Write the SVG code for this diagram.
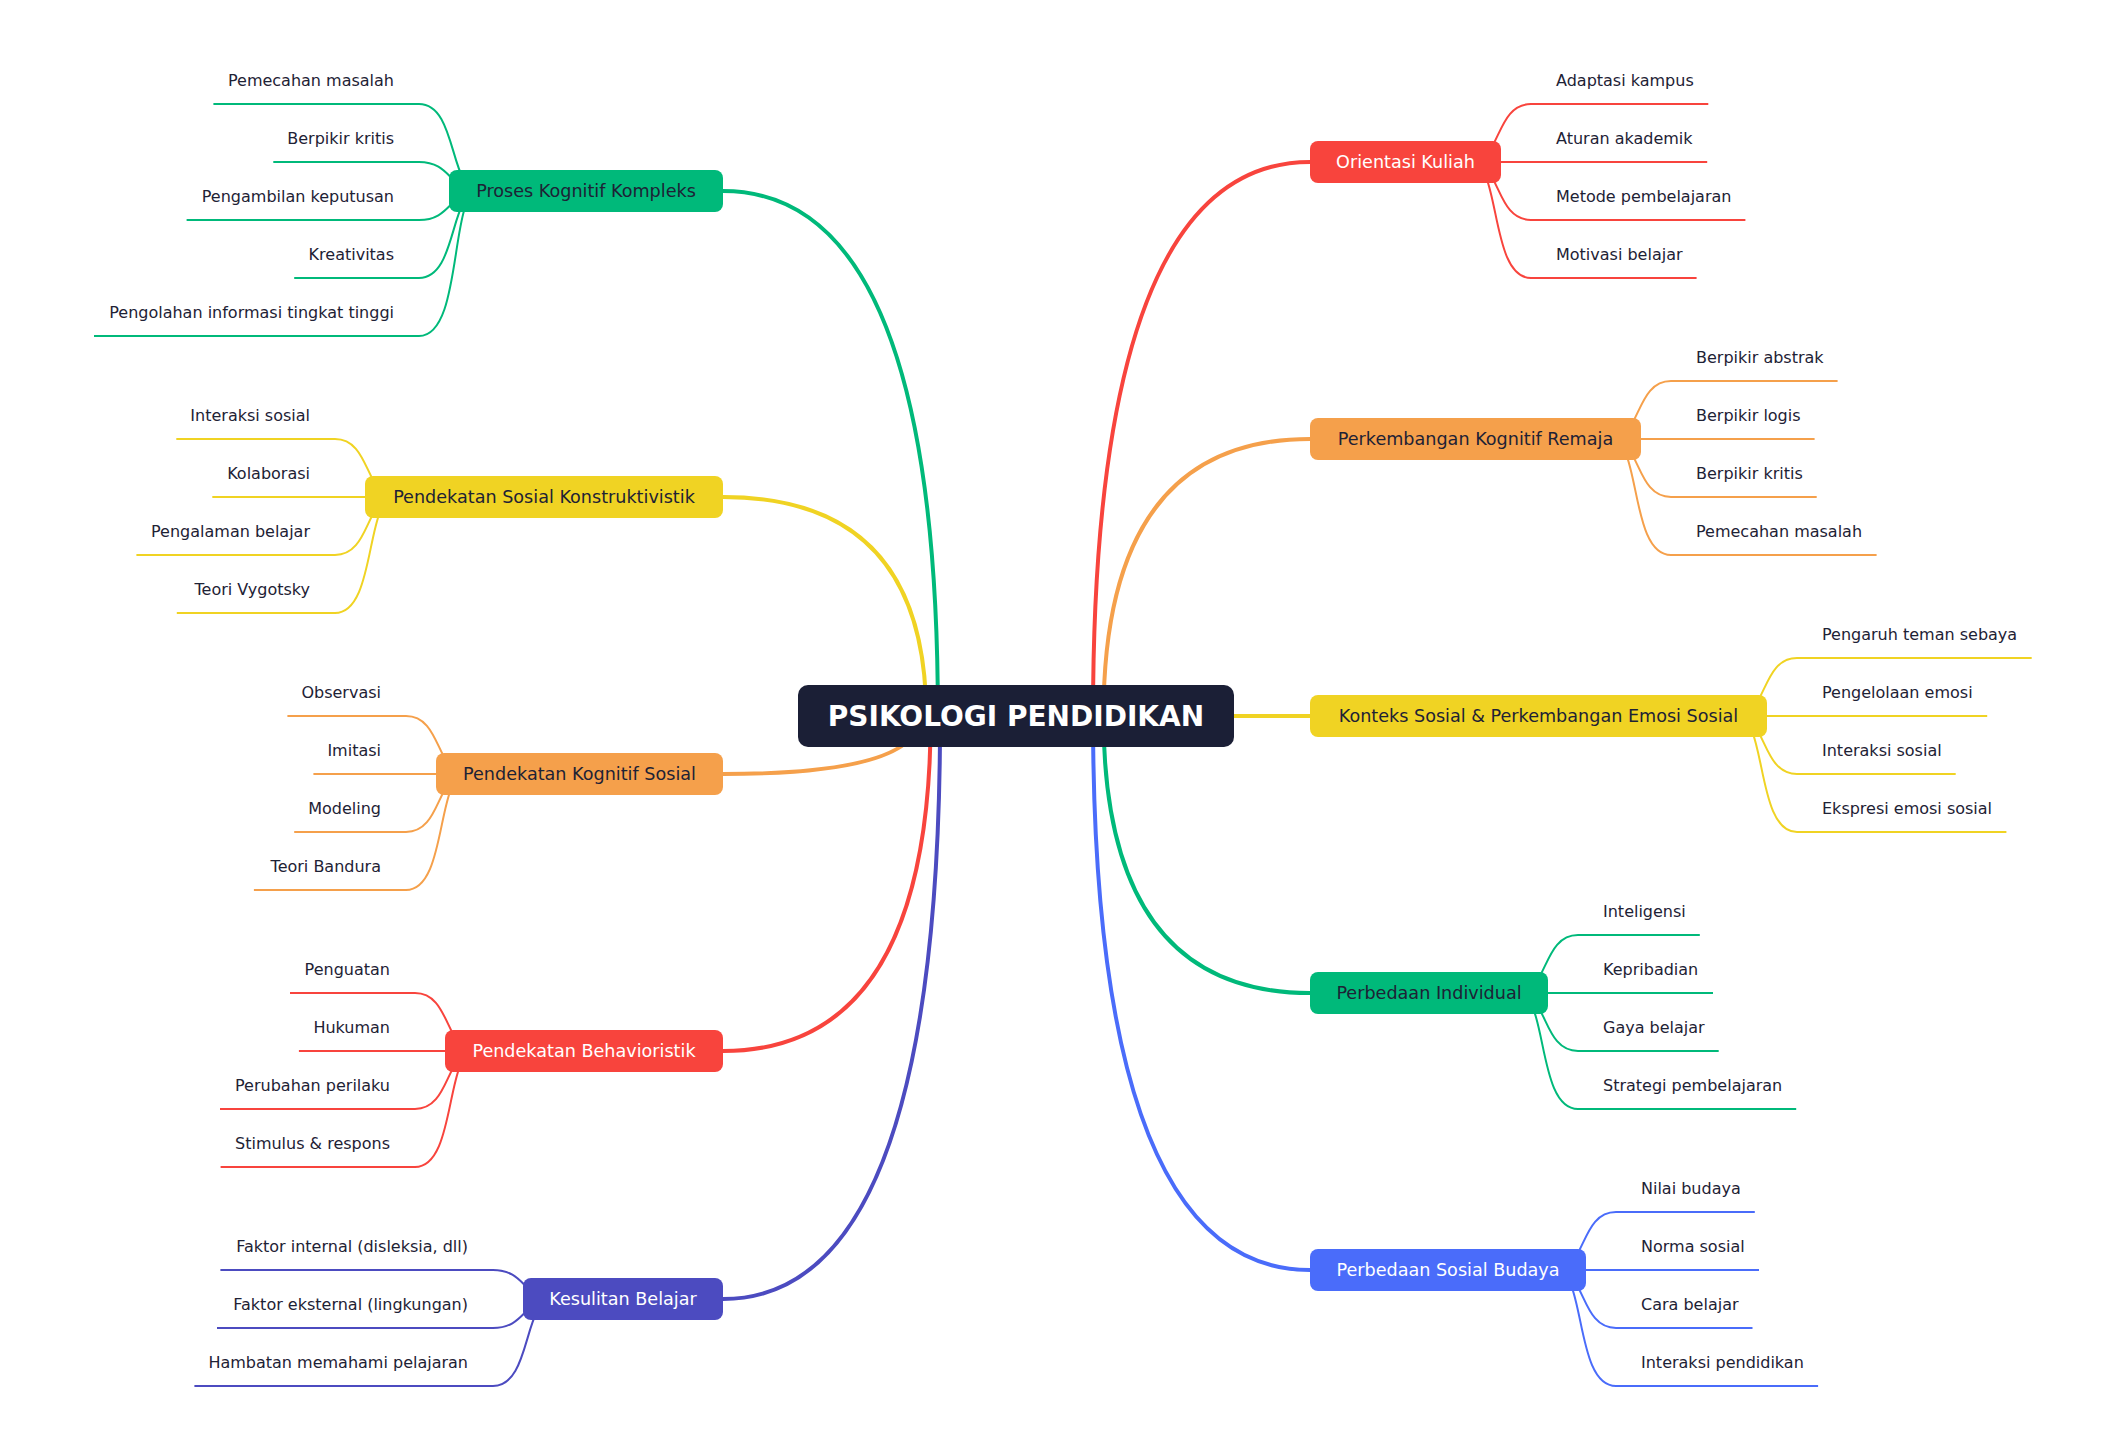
<svg xmlns="http://www.w3.org/2000/svg" width="2126" height="1430" viewBox="0 0 2126 1430">
<style>
.bg{fill:#ffffff}
.m{fill:none;stroke-width:4}
.s{fill:none;stroke-width:2}
.red{stroke:#f8443d}.orange{stroke:#f5a04b}.yellow{stroke:#f0d323}.green{stroke:#00b97a}.blue{stroke:#4a6cfa}.indigo{stroke:#4c4bc0}
.fr{fill:#f8443d}.fo{fill:#f5a04b}.fy{fill:#f0d323}.fg{fill:#00b97a}.fb{fill:#4a6cfa}.fi{fill:#4c4bc0}
.bt{font-family:"DejaVu Sans","Liberation Sans",sans-serif;font-size:17.6px;text-anchor:middle}
.dk{fill:#1e2235}.wt{fill:#ffffff}
.ct{font-family:"DejaVu Sans","Liberation Sans",sans-serif;font-size:16px;fill:#1e2235}
.l{text-anchor:end}
.root{font-family:"DejaVu Sans","Liberation Sans",sans-serif;font-size:28px;font-weight:bold;fill:#ffffff;text-anchor:middle}
</style>
<rect class="bg" x="0" y="0" width="2126" height="1430"/>
<g transform="translate(0,1)">
<g id="connectors">
<path class="m red" d="M1093.0,715 Q1093.0,161 1310,161"/>
<path class="m orange" d="M1103.5,715 Q1103.5,438 1310,438"/>
<path class="m yellow" d="M1114.1,715 L1310,715"/>
<path class="m green" d="M1103.5,715 Q1103.5,992 1310,992"/>
<path class="m blue" d="M1093.0,715 Q1093.0,1269 1310,1269"/>
<path class="m green" d="M937.9,715 Q937.9,190 723,190"/>
<path class="m yellow" d="M926.2,715 Q926.2,496 723,496"/>
<path class="m orange" d="M920.1,715 Q920.1,773 723,773"/>
<path class="m red" d="M930.7,715 Q930.7,1050 723,1050"/>
<path class="m indigo" d="M940.1,715 Q940.1,1298 723,1298"/>
<path class="s red" d="M1471,161 C1501,161 1495.2,103 1531,103 H1708.3"/>
<path class="s red" d="M1471,161 C1501,161 1501,161 1531,161 H1707.2"/>
<path class="s red" d="M1471,161 C1501,161 1495.2,219 1531,219 H1745.4"/>
<path class="s red" d="M1471,161 C1501,161 1489.4,277 1531,277 H1696.6"/>
<path class="s orange" d="M1611,438 C1641,438 1635.2,380 1671,380 H1837.6"/>
<path class="s orange" d="M1611,438 C1641,438 1641,438 1671,438 H1814.6"/>
<path class="s orange" d="M1611,438 C1641,438 1635.2,496 1671,496 H1816.7"/>
<path class="s orange" d="M1611,438 C1641,438 1629.4,554 1671,554 H1876.6"/>
<path class="s yellow" d="M1737,715 C1767,715 1761.2,657 1797,657 H2031.7"/>
<path class="s yellow" d="M1737,715 C1767,715 1767,715 1797,715 H1987.2"/>
<path class="s yellow" d="M1737,715 C1767,715 1761.2,773 1797,773 H1955.7"/>
<path class="s yellow" d="M1737,715 C1767,715 1755.4,831 1797,831 H2006.4"/>
<path class="s green" d="M1518,992 C1548,992 1542.2,934 1578,934 H1699.8"/>
<path class="s green" d="M1518,992 C1548,992 1548,992 1578,992 H1713"/>
<path class="s green" d="M1518,992 C1548,992 1542.2,1050 1578,1050 H1718.7"/>
<path class="s green" d="M1518,992 C1548,992 1536.4,1108 1578,1108 H1796.2"/>
<path class="s blue" d="M1556,1269 C1586,1269 1580.2,1211 1616,1211 H1754.8"/>
<path class="s blue" d="M1556,1269 C1586,1269 1586,1269 1616,1269 H1759"/>
<path class="s blue" d="M1556,1269 C1586,1269 1580.2,1327 1616,1327 H1752.5"/>
<path class="s blue" d="M1556,1269 C1586,1269 1574.4,1385 1616,1385 H1818.1"/>
<path class="s green" d="M479,190 C449,190 457.7,103 419,103 H213.4"/>
<path class="s green" d="M479,190 C449,190 451.9,161 419,161 H273.3"/>
<path class="s green" d="M479,190 C449,190 451.9,219 419,219 H186.6"/>
<path class="s green" d="M479,190 C449,190 457.7,277 419,277 H294.2"/>
<path class="s green" d="M479,190 C449,190 463.5,335 419,335 H94"/>
<path class="s yellow" d="M395,496 C365,496 370.8,438 335,438 H176.3"/>
<path class="s yellow" d="M395,496 C365,496 365,496 335,496 H212.3"/>
<path class="s yellow" d="M395,496 C365,496 370.8,554 335,554 H136.4"/>
<path class="s yellow" d="M395,496 C365,496 376.6,612 335,612 H176.8"/>
<path class="s orange" d="M466,773 C436,773 441.8,715 406,715 H287.4"/>
<path class="s orange" d="M466,773 C436,773 436,773 406,773 H313.4"/>
<path class="s orange" d="M466,773 C436,773 441.8,831 406,831 H294.2"/>
<path class="s orange" d="M466,773 C436,773 447.6,889 406,889 H253.9"/>
<path class="s red" d="M475,1050 C445,1050 450.8,992 415,992 H290"/>
<path class="s red" d="M475,1050 C445,1050 445,1050 415,1050 H298.9"/>
<path class="s red" d="M475,1050 C445,1050 450.8,1108 415,1108 H220"/>
<path class="s red" d="M475,1050 C445,1050 456.6,1166 415,1166 H220.6"/>
<path class="s indigo" d="M553,1298 C523,1298 525.9,1269 493,1269 H220.4"/>
<path class="s indigo" d="M553,1298 C523,1298 525.9,1327 493,1327 H217"/>
<path class="s indigo" d="M553,1298 C523,1298 531.7,1385 493,1385 H194.4"/>
</g>

<g id="root">
<rect x="798" y="684" width="436" height="62" rx="10" fill="#1b1f36"/>
<text class="root" x="1016" y="725">PSIKOLOGI PENDIDIKAN</text>
</g>

<g id="n-orientasi"><rect class="fr" x="1310" y="140" width="191" height="42" rx="8"/><text class="bt wt" x="1405.5" y="167">Orientasi Kuliah</text></g>
<g id="n-perkembangan"><rect class="fo" x="1310" y="417" width="331" height="42" rx="8"/><text class="bt dk" x="1475.5" y="444">Perkembangan Kognitif Remaja</text></g>
<g id="n-konteks"><rect class="fy" x="1310" y="694" width="457" height="42" rx="8"/><text class="bt dk" x="1538.5" y="721">Konteks Sosial &amp; Perkembangan Emosi Sosial</text></g>
<g id="n-individual"><rect class="fg" x="1310" y="971" width="238" height="42" rx="8"/><text class="bt dk" x="1429" y="998">Perbedaan Individual</text></g>
<g id="n-sosbud"><rect class="fb" x="1310" y="1248" width="276" height="42" rx="8"/><text class="bt wt" x="1448" y="1275">Perbedaan Sosial Budaya</text></g>

<g id="n-proses"><rect class="fg" x="449" y="169" width="274" height="42" rx="8"/><text class="bt dk" x="586" y="196">Proses Kognitif Kompleks</text></g>
<g id="n-konstruktivistik"><rect class="fy" x="365" y="475" width="358" height="42" rx="8"/><text class="bt dk" x="544" y="502">Pendekatan Sosial Konstruktivistik</text></g>
<g id="n-kogsos"><rect class="fo" x="436" y="752" width="287" height="42" rx="8"/><text class="bt dk" x="579.5" y="779">Pendekatan Kognitif Sosial</text></g>
<g id="n-behavior"><rect class="fr" x="445" y="1029" width="278" height="42" rx="8"/><text class="bt wt" x="584" y="1056">Pendekatan Behavioristik</text></g>
<g id="n-kesulitan"><rect class="fi" x="523" y="1277" width="200" height="42" rx="8"/><text class="bt wt" x="623" y="1304">Kesulitan Belajar</text></g>

<g id="c-or1"><text class="ct" x="1556" y="85">Adaptasi kampus</text></g>
<g id="c-or2"><text class="ct" x="1556" y="143">Aturan akademik</text></g>
<g id="c-or3"><text class="ct" x="1556" y="201">Metode pembelajaran</text></g>
<g id="c-or4"><text class="ct" x="1556" y="259">Motivasi belajar</text></g>
<g id="c-pk1"><text class="ct" x="1696" y="362">Berpikir abstrak</text></g>
<g id="c-pk2"><text class="ct" x="1696" y="420">Berpikir logis</text></g>
<g id="c-pk3"><text class="ct" x="1696" y="478">Berpikir kritis</text></g>
<g id="c-pk4"><text class="ct" x="1696" y="536">Pemecahan masalah</text></g>
<g id="c-ks1"><text class="ct" x="1822" y="639">Pengaruh teman sebaya</text></g>
<g id="c-ks2"><text class="ct" x="1822" y="697">Pengelolaan emosi</text></g>
<g id="c-ks3"><text class="ct" x="1822" y="755">Interaksi sosial</text></g>
<g id="c-ks4"><text class="ct" x="1822" y="813">Ekspresi emosi sosial</text></g>
<g id="c-pi1"><text class="ct" x="1603" y="916">Inteligensi</text></g>
<g id="c-pi2"><text class="ct" x="1603" y="974">Kepribadian</text></g>
<g id="c-pi3"><text class="ct" x="1603" y="1032">Gaya belajar</text></g>
<g id="c-pi4"><text class="ct" x="1603" y="1090">Strategi pembelajaran</text></g>
<g id="c-sb1"><text class="ct" x="1641" y="1193">Nilai budaya</text></g>
<g id="c-sb2"><text class="ct" x="1641" y="1251">Norma sosial</text></g>
<g id="c-sb3"><text class="ct" x="1641" y="1309">Cara belajar</text></g>
<g id="c-sb4"><text class="ct" x="1641" y="1367">Interaksi pendidikan</text></g>

<g id="c-pr1"><text class="ct l" x="394" y="85">Pemecahan masalah</text></g>
<g id="c-pr2"><text class="ct l" x="394" y="143">Berpikir kritis</text></g>
<g id="c-pr3"><text class="ct l" x="394" y="201">Pengambilan keputusan</text></g>
<g id="c-pr4"><text class="ct l" x="394" y="259">Kreativitas</text></g>
<g id="c-pr5"><text class="ct l" x="394" y="317">Pengolahan informasi tingkat tinggi</text></g>
<g id="c-sk1"><text class="ct l" x="310" y="420">Interaksi sosial</text></g>
<g id="c-sk2"><text class="ct l" x="310" y="478">Kolaborasi</text></g>
<g id="c-sk3"><text class="ct l" x="310" y="536">Pengalaman belajar</text></g>
<g id="c-sk4"><text class="ct l" x="310" y="594">Teori Vygotsky</text></g>
<g id="c-kg1"><text class="ct l" x="381" y="697">Observasi</text></g>
<g id="c-kg2"><text class="ct l" x="381" y="755">Imitasi</text></g>
<g id="c-kg3"><text class="ct l" x="381" y="813">Modeling</text></g>
<g id="c-kg4"><text class="ct l" x="381" y="871">Teori Bandura</text></g>
<g id="c-bh1"><text class="ct l" x="390" y="974">Penguatan</text></g>
<g id="c-bh2"><text class="ct l" x="390" y="1032">Hukuman</text></g>
<g id="c-bh3"><text class="ct l" x="390" y="1090">Perubahan perilaku</text></g>
<g id="c-bh4"><text class="ct l" x="390" y="1148">Stimulus &amp; respons</text></g>
<g id="c-kb1"><text class="ct l" x="468" y="1251">Faktor internal (disleksia, dll)</text></g>
<g id="c-kb2"><text class="ct l" x="468" y="1309">Faktor eksternal (lingkungan)</text></g>
<g id="c-kb3"><text class="ct l" x="468" y="1367">Hambatan memahami pelajaran</text></g>
</g>
</svg>
